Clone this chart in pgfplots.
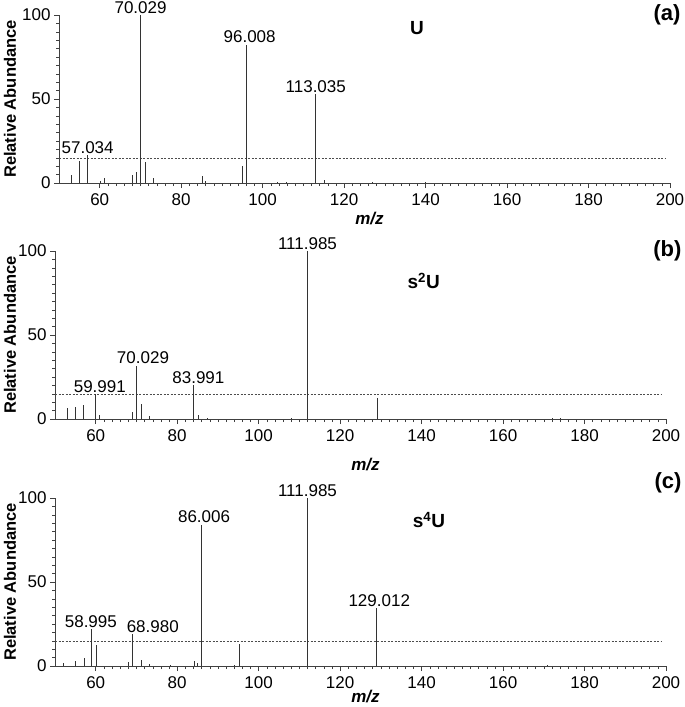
\documentclass[border=0pt]{standalone}
\usepackage{fontspec}
\setmainfont{Liberation Sans}
\usepackage{pgfplots}
\pgfplotsset{compat=1.18}

\pgfplotsset{
  ms/.style={
    scale only axis, width=611pt, height=168pt,
    xmin=50, xmax=200, ymin=0, ymax=100,
    axis x line=bottom, axis y line=left, axis line style={-, black!75},
    xtick={60,80,...,200}, ytick={0,50,100},
    minor x tick num=9, minor y tick num=9,
    tick align=outside, major tick length=5pt, minor tick length=3pt,
    tick style={black!75, line width=0.5pt},
    ticklabel style={font=\fontsize{17}{20}\selectfont},
    /pgf/number format/assume math mode=true,
    xticklabel style={yshift=-2pt},
    clip=false,
  },
  peak/.style={ycomb, no marks, black!80, line width=0.8pt},
  thr/.style={no marks, black!70, line width=0.5pt, dash pattern=on 2pt off 1.5pt},
}
\tikzset{
  plab/.style={anchor=south, inner sep=1.5pt, font=\fontsize{17}{20}\selectfont},
  cmpd/.style={font=\bfseries\fontsize{19}{22}\selectfont},
  pan/.style={anchor=east, font=\bfseries\fontsize{22}{26}\selectfont},
}
% #1: shift of the y label from the axis, #2: shift of the x label below the axis
\newcommand{\axlabels}[2]{%
  \node[rotate=90, inner sep=0pt, font=\bfseries\fontsize{16.5}{19}\selectfont] at ([xshift=#1]rel axis cs:0,0.5) {Relative Abundance};
  \node[inner sep=0pt, font=\bfseries\itshape\fontsize{17}{20}\selectfont] at ([xshift=5pt,yshift=#2]rel axis cs:0.5,0) {m/z};
}

\begin{document}
\begin{tikzpicture}
\path[use as bounding box] (0,0) rectangle (685pt,-707pt);

% (a) U
\begin{axis}[ms, at={(59pt,-183pt)}]
\addplot[thr] coordinates {(50,14.5) (199,14.5)};
\addplot[peak] coordinates {
 (53.1,4.9) (55.1,12.8) (57.034,16.4) (60.2,1.4) (61.2,3.0) (68.1,4.9) (69.1,6.5)
 (70.029,100) (71.1,12.3) (73.1,3.0) (85.2,4.3) (85.9,1.4) (95.1,9.9) (96.008,82.4)
 (103.5,0.8) (105.8,0.8) (113.035,53.0) (115.2,2.0) (127.0,0.4) (140.0,0.3)
};
\node[plab] at (axis cs:57.034,16.4) {57.034};
\node[plab] at (axis cs:70.029,100) {70.029};
\node[plab] at (axis cs:96.8,82.4) {96.008};
\node[plab] at (axis cs:113.035,53.0) {113.035};
\node[cmpd] at (axis cs:137.9,92) {U};
\node[pan] at ([xshift=14pt]rel axis cs:1,1) {(a)};
\axlabels{-49pt}{-36pt}
\end{axis}

% (b) s2U
\begin{axis}[ms, at={(55pt,-419pt)}]
\addplot[thr] coordinates {(50,14.8) (199,14.8)};
\addplot[peak] coordinates {
 (53.0,6.8) (55.0,7.4) (57.0,8.4) (59.991,14.9) (61.0,2.4) (69.0,4.0) (70.029,31.7)
 (71.1,9.0) (73.1,1.8) (83.991,20.3) (85.2,2.4) (87.3,0.5) (108.0,0.5) (111.985,100)
 (129.1,12.4) (172.0,0.5) (174.0,0.4)
};
\node[plab] at (axis cs:61.0,14.9) {59.991};
\node[plab] at (axis cs:71.6,31.7) {70.029};
\node[plab] at (axis cs:85.2,20.3) {83.991};
\node[plab] at (axis cs:111.985,100) {111.985};
\node[cmpd] at (axis cs:140.5,82) {s\textsuperscript{2}U};
\node[pan] at ([xshift=19pt]rel axis cs:1,1) {(b)};
\axlabels{-45pt}{-46pt}
\end{axis}

% (c) s4U
\begin{axis}[ms, at={(55pt,-666pt)}]
\addplot[thr] coordinates {(50,14.5) (199,14.5)};
\addplot[peak] coordinates {
 (52.0,1.6) (55.1,3.2) (57.1,4.6) (58.995,22.1) (60.1,12.7) (68.0,2.6) (68.980,18.9)
 (71.2,3.4) (73.1,1.0) (78.3,0.5) (84.1,3.2) (85.0,2.0) (86.006,84.1) (94.1,0.5)
 (95.2,13.1) (111.985,100) (129.012,34.4) (171.0,0.4)
};
\node[plab] at (axis cs:58.8,22.1) {58.995};
\node[plab] at (axis cs:74.0,18.9) {68.980};
\node[plab] at (axis cs:86.6,84.1) {86.006};
\node[plab] at (axis cs:111.985,100) {111.985};
\node[plab] at (axis cs:129.6,34.4) {129.012};
\node[cmpd] at (axis cs:141.8,87) {s\textsuperscript{4}U};
\node[pan] at ([xshift=19pt,yshift=15pt]rel axis cs:1,1) {(c)};
\axlabels{-45pt}{-31pt}
\end{axis}
\end{tikzpicture}
\end{document}
